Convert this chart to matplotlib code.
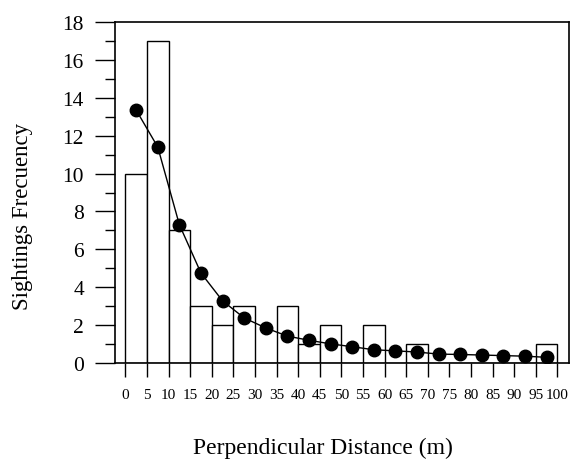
import numpy as np
import matplotlib.pyplot as plt
from matplotlib.ticker import MultipleLocator

# histogram of sightings (5 m classes) and fitted detection curve
bin_left = np.arange(0, 100, 5)
counts = [10, 17, 7, 3, 2, 3, 0, 3, 1, 2, 0, 2, 0, 1, 0, 0, 0, 0, 0, 1]
fit_x = bin_left + 2.5
fit_y = [13.35, 11.4, 7.3, 4.75, 3.28, 2.38, 1.85, 1.42, 1.2, 1.01,
         0.86, 0.7, 0.64, 0.58, 0.47, 0.45, 0.42, 0.39, 0.36, 0.3]
xticks = np.arange(0, 101, 5)

plt.rcParams['font.family'] = ['Liberation Serif', 'DejaVu Serif']

fig = plt.figure(figsize=(5.71, 4.6), dpi=100)
ax = fig.add_axes([115/571, 1-364/460, 454/571, 341/460])

ax.bar(bin_left, counts, width=5, align='edge', color='white',
       edgecolor='black', linewidth=1.0, zorder=1)
ax.plot(fit_x, fit_y, '-o', color='black', lw=1.0, ms=9, zorder=3)

ax.set_xlim(-2.4, 102.7)
ax.set_ylim(0, 18)
ax.set_xticks(xticks)
ax.set_xticklabels([str(v) for v in xticks], fontsize=11)
ax.yaxis.set_major_locator(MultipleLocator(2))
ax.yaxis.set_minor_locator(MultipleLocator(1))
ax.tick_params(axis='y', which='major', length=14.4, width=1.0,
               labelsize=15.5, pad=8)
ax.tick_params(axis='y', which='minor', length=7.2, width=1.0)
ax.tick_params(axis='x', which='major', length=10, width=1.0, pad=8)

for s in ax.spines.values():
    s.set_linewidth(1.2)

ax.set_ylabel('Sightings Frecuency', fontsize=16.5)
ax.yaxis.set_label_coords(-0.18, 0.433)
ax.set_xlabel('Perpendicular Distance (m)', fontsize=17)
ax.xaxis.set_label_coords(0.457, -0.215)

fig.savefig('out.png', dpi=100)
